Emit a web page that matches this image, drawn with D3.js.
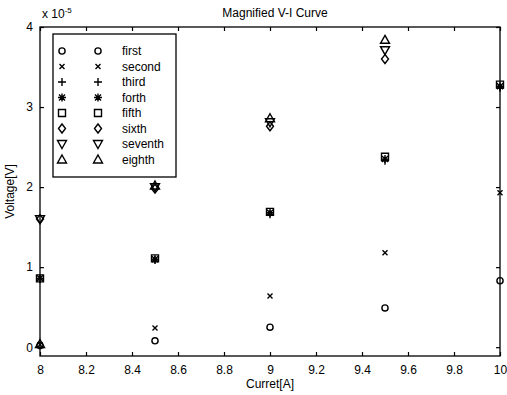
<!DOCTYPE html>
<html lang="en">
<head>
<meta charset="UTF-8">
<title>Magnified V-I Curve</title>
<script src="https://cdn.jsdelivr.net/npm/d3@7"></script>
<style>
    body { margin: 0; background: #fff; }
    svg { font-family: "Liberation Sans", Arial, sans-serif; }
    .axis path, .axis line { stroke: #000; stroke-width: 1.2; }
</style>
</head>
<body>
<svg id="main" width="507" height="395"></svg>
<script>

// currents [A]
var currents = [8, 8.5, 9, 9.5, 10];

// voltages, in units of 1e-5 V (null = off the chart)
var first   = [0.02, 0.08, 0.25, 0.49, 0.83];
var second  = [0.03, 0.24, 0.64, 1.18, 1.93];
var third   = [0.85, 1.09, 1.66, 2.33, 3.24];
var forth   = [0.86, 1.10, 1.68, 2.35, 3.26];
var fifth   = [0.86, 1.11, 1.69, 2.38, 3.28];
var sixth   = [1.60, 1.98, 2.76, 3.60, null];
var seventh = [1.60, 2.00, 2.81, 3.71, null];
var eighth  = [0.04, 2.02, 2.86, 3.84, null];

var seriesNames = ["first", "second", "third", "forth", "fifth", "sixth", "seventh", "eighth"];
var seriesValues = [first, second, third, forth, fifth, sixth, seventh, eighth];
var markerTypes = ["circle", "x", "plus", "star", "square", "diamond", "triDown", "triUp"];

var xTicks = [8, 8.2, 8.4, 8.6, 8.8, 9, 9.2, 9.4, 9.6, 9.8, 10];
var yTicks = [0, 1, 2, 3, 4];

var svg = d3.select("#main"),
    margin = {top: 27, right: 7, bottom: 39, left: 40},
    width = +svg.attr("width") - margin.left - margin.right,
    height = +svg.attr("height") - margin.top - margin.bottom;

var x = d3.scaleLinear().domain([8, 10]).range([0, width]);
var y = d3.scaleLinear().domain([-0.11, 4]).range([height, 0]);

var g = svg.append("g").attr("transform", "translate(" + margin.left + "," + margin.top + ")");

// marker shapes, sized like matlab markers
function markerPath(type) {
    var s = 4;
    switch (type) {
        case "circle": return d3.symbol().type(d3.symbolCircle).size(30)();
        case "square": return "M-3.5,-3.5H3.5V3.5H-3.5Z";
        case "diamond": return "M0,-4.5L3.5,0L0,4.5L-3.5,0Z";
        case "triUp": return "M0,-4.5L4.5,3.5L-4.5,3.5Z";
        case "triDown": return "M0,4.5L4.5,-3.5L-4.5,-3.5Z";
        case "x": return "M-2.5,-2.5L2.5,2.5M-2.5,2.5L2.5,-2.5";
        case "plus": return "M-" + s + ",0H" + s + "M0,-" + s + "V" + s;
        case "star": return "M-4,0H4M0,-4V4M-3,-3L3,3M-3,3L3,-3";
    }
}

// axes box
g.append("rect")
    .attr("width", width)
    .attr("height", height)
    .attr("fill", "none")
    .attr("stroke", "#000")
    .attr("stroke-width", 1.3);

// ticks inside, like matlab (all four sides)
g.append("g").attr("class", "axis")
    .attr("transform", "translate(0," + height + ")")
    .call(d3.axisBottom(x).tickValues(xTicks).tickSizeInner(-4).tickSizeOuter(0).tickPadding(9)
        .tickFormat(function(d) { return d === 8 || d === 9 || d === 10 ? d : d3.format(".1f")(d); }))
    .call(function(a) { a.select(".domain").remove(); })
    .selectAll("text").style("font-size", "12px").attr("fill", "#000");

g.append("g").attr("class", "axis")
    .call(d3.axisTop(x).tickValues(xTicks).tickSizeInner(-4).tickSizeOuter(0).tickFormat(""))
    .call(function(a) { a.select(".domain").remove(); });

g.append("g").attr("class", "axis")
    .call(d3.axisLeft(y).tickValues(yTicks).tickSizeInner(-4).tickSizeOuter(0).tickPadding(7)
        .tickFormat(d3.format("d")))
    .call(function(a) { a.select(".domain").remove(); })
    .selectAll("text").style("font-size", "12px").attr("fill", "#000");

g.append("g").attr("class", "axis")
    .attr("transform", "translate(" + width + ",0)")
    .call(d3.axisRight(y).tickValues(yTicks).tickSizeInner(-4).tickSizeOuter(0).tickFormat(""))
    .call(function(a) { a.select(".domain").remove(); });

// data markers
seriesValues.forEach(function(vals, i) {
    var pts = currents.map(function(c, j) { return {x: c, y: vals[j]}; })
        .filter(function(d) { return d.y !== null; });
    g.selectAll(".m" + i)
        .data(pts)
        .enter().append("path")
        .attr("class", "m" + i)
        .attr("transform", function(d) { return "translate(" + x(d.x) + "," + y(d.y) + ")"; })
        .attr("d", markerPath(markerTypes[i]))
        .attr("fill", "none")
        .attr("stroke", "#000")
        .attr("stroke-width", 1.4);
});

// legend
var legend = g.append("g").attr("transform", "translate(13,7)");
legend.append("rect")
    .attr("width", 123)
    .attr("height", 143)
    .attr("fill", "#fff")
    .attr("stroke", "#000")
    .attr("stroke-width", 1.3);

var rows = legend.selectAll(".legend")
    .data(seriesNames)
    .enter().append("g")
    .attr("class", "legend")
    .attr("transform", function(d, i) { return "translate(0," + (17 + i * 15.5) + ")"; });

rows.append("path")
    .attr("transform", "translate(9,0)")
    .attr("d", function(d, i) { return markerPath(markerTypes[i]); })
    .attr("fill", "none").attr("stroke", "#000").attr("stroke-width", 1.4);
rows.append("path")
    .attr("transform", "translate(45,0)")
    .attr("d", function(d, i) { return markerPath(markerTypes[i]); })
    .attr("fill", "none").attr("stroke", "#000").attr("stroke-width", 1.4);
rows.append("text")
    .attr("x", 69)
    .attr("dy", "0.35em")
    .style("font-size", "12px")
    .text(function(d) { return d; });

// title, labels, exponent
svg.append("text")
    .attr("x", margin.left + width / 2 + 5)
    .attr("y", 17)
    .attr("text-anchor", "middle")
    .style("font-size", "12px")
    .text("Magnified V-I Curve");

svg.append("text")
    .attr("x", margin.left + width / 2)
    .attr("y", 388)
    .attr("text-anchor", "middle")
    .style("font-size", "12px")
    .text("Curret[A]");

svg.append("text")
    .attr("transform", "translate(14," + (margin.top + height / 2) + ") rotate(-90)")
    .attr("text-anchor", "middle")
    .style("font-size", "12px")
    .text("Voltage[V]");

var expo = svg.append("text")
    .attr("x", 42)
    .attr("y", 18)
    .style("font-size", "12px");
expo.append("tspan").text("x 10");
expo.append("tspan").attr("dy", -5).style("font-size", "8px").text("-5");

</script>
</body>
</html>
